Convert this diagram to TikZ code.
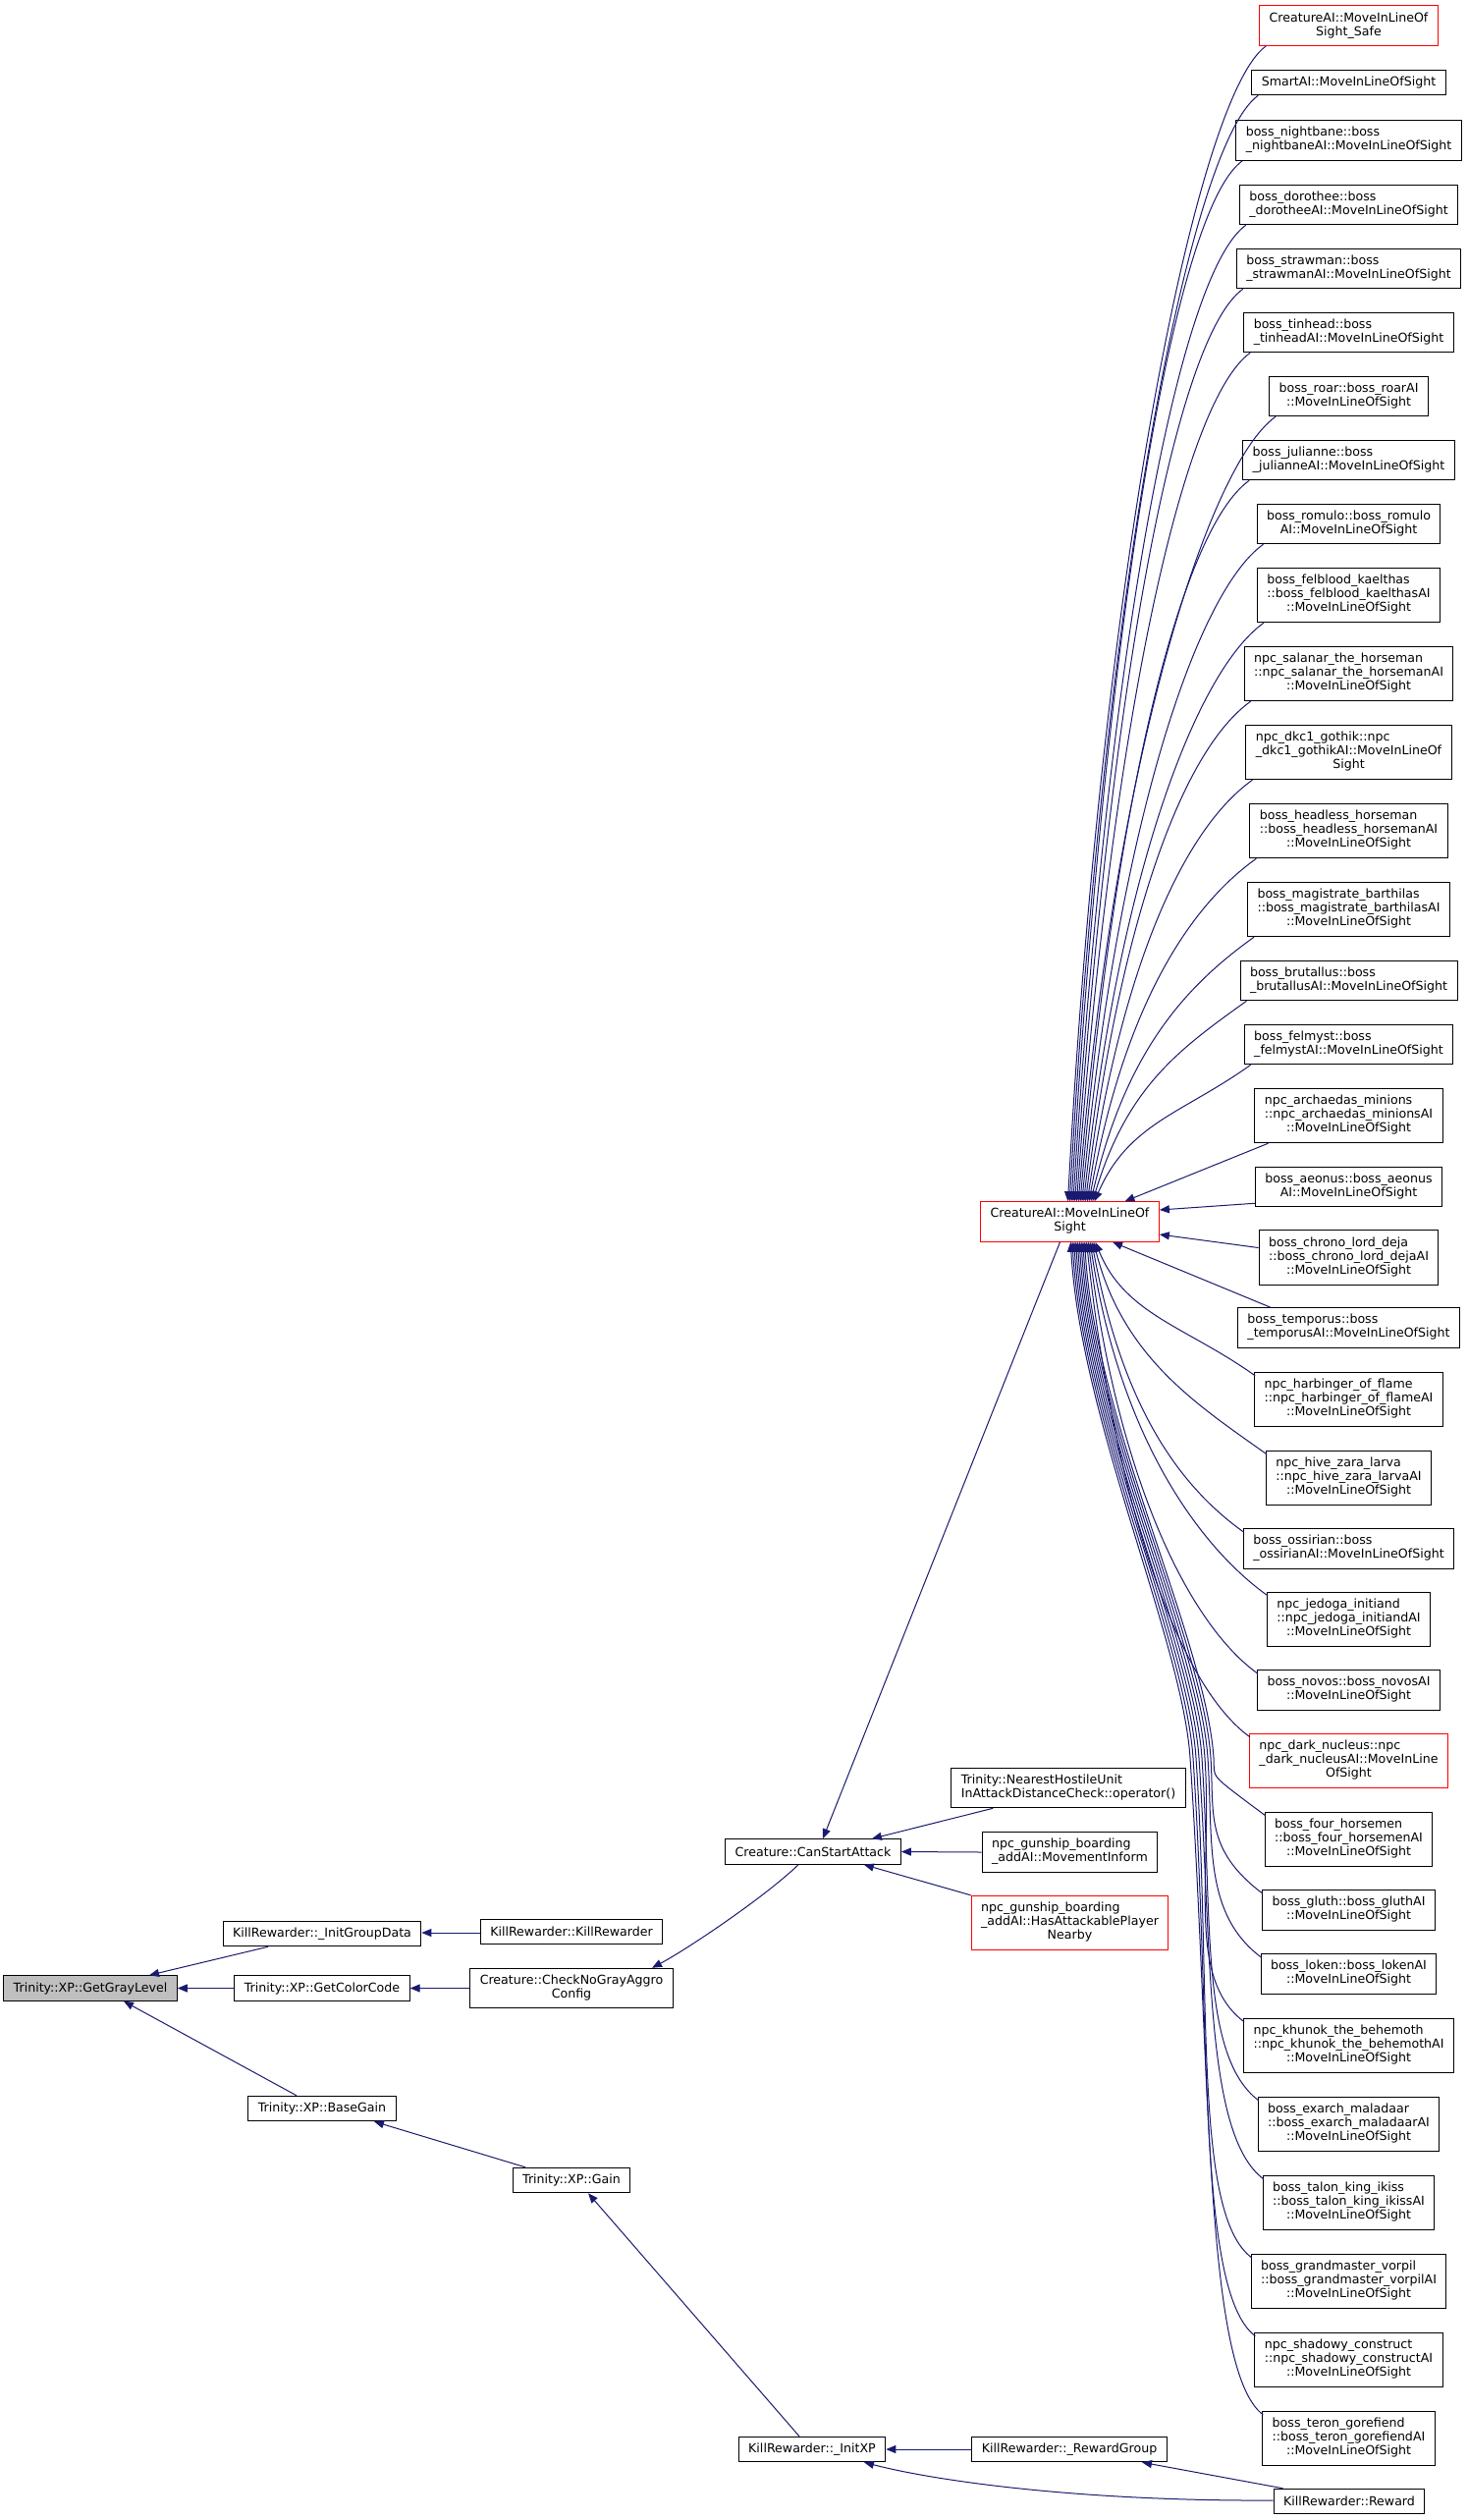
\documentclass[tikz,border=0pt]{standalone}
\usepackage{fontspec}
\newfontfamily\dvs{DejaVu Sans}
\usetikzlibrary{arrows.meta,calc}
\definecolor{mblue}{HTML}{191970}
\definecolor{ggray}{HTML}{BFBFBF}
\newcommand{\lab}[2]{\begin{tabular}{@{}l@{}}#1\\\multicolumn{1}{@{}c@{}}{#2}\end{tabular}}
\newcommand{\nfont}{\dvs\fontsize{12.6}{14}\selectfont}
\tikzset{
  box/.style={draw=black, line width=1pt, fill=white, inner xsep=10pt, inner ysep=0pt, font=\nfont},
  hA/.style={box, minimum height=25.5pt},
  hB/.style={box, minimum height=40.5pt},
  hC/.style={box, minimum height=55.5pt},
  redbox/.style={draw=red},
  graybox/.style={fill=ggray},
  edge/.style={draw=mblue, line width=1pt, -{Triangle[length=10pt,width=8pt]}}
}
\newcommand{\upedge}[3]{%
  \coordinate (A#1) at ($(#1.south west)+(7,0)$);
  \coordinate (S#1) at ($(cai.north)+(#2,0)$);
  \draw[edge] (A#1) .. controls ($(A#1)+(-70,50)$) and ($(S#1)+(35,-#3)$) .. (S#1);}
\newcommand{\downedge}[3]{%
  \coordinate (A#1) at ($(#1.north west)+(1,4)$);
  \coordinate (S#1) at ($(cai.south)+(#2,0)$);
  \draw[edge] (A#1) .. controls ($(A#1)+(-70,-50)$) and ($(S#1)+(30,#3)$) .. (S#1);}
% far edges: routed through a waypoint right of the middle boxes
\newcommand{\faredge}[4]{%
  \coordinate (A#1) at ($(#1.north west)+(1,4)$);
  \coordinate (S#1) at ($(cai.south)+(#2,0)$);
  \coordinate (W#1) at (#3,1790);
  \draw[edge] (A#1) .. controls ($(A#1)+(-60,-45)$) and ($(W#1)+(#4/15,#4)$) .. (W#1)
     .. controls ($(W#1)+(-8,-120)$) and ($(S#1)+(10,180)$) .. (S#1);}
\begin{document}
\begin{tikzpicture}[x=1pt,y=-1pt]
\useasboundingbox (0,0) rectangle (1495,2566);
% left part
\node[hA,graybox] (ggl) at (92,2024.5) {Trinity::XP::GetGrayLevel};
\node[hA] (igd) at (328,1969) {KillRewarder::\_InitGroupData};
\node[hA] (krk) at (582,1967) {KillRewarder::KillRewarder};
\node[hA] (gcc) at (328,2024.5) {Trinity::XP::GetColorCode};
\node[hB] (cng) at (582,2024.5) {\lab{Creature::CheckNoGrayAggro}{Config}};
\node[hA] (bg) at (328,2147) {Trinity::XP::BaseGain};
\node[hA] (gain) at (582,2220) {Trinity::XP::Gain};
\node[hA] (csa) at (828,1885.5) {Creature::CanStartAttack};
\node[hA] (ixp) at (827,2494) {KillRewarder::\_InitXP};
\node[hA] (rg) at (1089,2494) {KillRewarder::\_RewardGroup};
\node[hA] (rw) at (1374,2547) {KillRewarder::Reward};
\node[hB] (nh) at (1088,1820.5) {\lab{Trinity::NearestHostileUnit}{InAttackDistanceCheck::operator()}};
\node[hB] (mi) at (1089.5,1886) {\lab{npc\_gunship\_boarding}{\_addAI::MovementInform}};
\node[hC,redbox] (hap) at (1089.5,1958) {\lab{npc\_gunship\_boarding\\\_addAI::HasAttackablePlayer}{Nearby}};
\node[hB,redbox] (cai) at (1089.5,1244) {\lab{CreatureAI::MoveInLineOf}{Sight}};
% right column
\node[hB,redbox] (r1) at (1373.5,26.25) {\lab{CreatureAI::MoveInLineOf}{Sight\_Safe}};
\node[hA] (r2) at (1373.5,84) {SmartAI::MoveInLineOfSight};
\node[hB] (r3) at (1373.5,143) {\lab{boss\_nightbane::boss}{\_nightbaneAI::MoveInLineOfSight}};
\node[hB] (r4) at (1373.5,208.5) {\lab{boss\_dorothee::boss}{\_dorotheeAI::MoveInLineOfSight}};
\node[hB] (r5) at (1373.5,273.5) {\lab{boss\_strawman::boss}{\_strawmanAI::MoveInLineOfSight}};
\node[hB] (r6) at (1373.5,338.5) {\lab{boss\_tinhead::boss}{\_tinheadAI::MoveInLineOfSight}};
\node[hB] (r7) at (1373.5,403.5) {\lab{boss\_roar::boss\_roarAI}{::MoveInLineOfSight}};
\node[hB] (r8) at (1373.5,468.5) {\lab{boss\_julianne::boss}{\_julianneAI::MoveInLineOfSight}};
\node[hB] (r9) at (1373.5,533.5) {\lab{boss\_romulo::boss\_romulo}{AI::MoveInLineOfSight}};
\node[hC] (r10) at (1373.5,606) {\lab{boss\_felblood\_kaelthas\\::boss\_felblood\_kaelthasAI}{::MoveInLineOfSight}};
\node[hC] (r11) at (1373.5,686) {\lab{npc\_salanar\_the\_horseman\\::npc\_salanar\_the\_horsemanAI}{::MoveInLineOfSight}};
\node[hC] (r12) at (1373.5,766) {\lab{npc\_dkc1\_gothik::npc\\\_dkc1\_gothikAI::MoveInLineOf}{Sight}};
\node[hC] (r13) at (1373.5,846) {\lab{boss\_headless\_horseman\\::boss\_headless\_horsemanAI}{::MoveInLineOfSight}};
\node[hC] (r14) at (1373.5,926) {\lab{boss\_magistrate\_barthilas\\::boss\_magistrate\_barthilasAI}{::MoveInLineOfSight}};
\node[hB] (r15) at (1373.5,998.5) {\lab{boss\_brutallus::boss}{\_brutallusAI::MoveInLineOfSight}};
\node[hB] (r16) at (1373.5,1063.5) {\lab{boss\_felmyst::boss}{\_felmystAI::MoveInLineOfSight}};
\node[hC] (r17) at (1373.5,1136) {\lab{npc\_archaedas\_minions\\::npc\_archaedas\_minionsAI}{::MoveInLineOfSight}};
\node[hB] (r18) at (1373.5,1208.5) {\lab{boss\_aeonus::boss\_aeonus}{AI::MoveInLineOfSight}};
\node[hC] (r19) at (1373.5,1280.5) {\lab{boss\_chrono\_lord\_deja\\::boss\_chrono\_lord\_dejaAI}{::MoveInLineOfSight}};
\node[hB] (r20) at (1373.5,1352) {\lab{boss\_temporus::boss}{\_temporusAI::MoveInLineOfSight}};
\node[hC] (r21) at (1373.5,1425) {\lab{npc\_harbinger\_of\_flame\\::npc\_harbinger\_of\_flameAI}{::MoveInLineOfSight}};
\node[hC] (r22) at (1373.5,1505) {\lab{npc\_hive\_zara\_larva\\::npc\_hive\_zara\_larvaAI}{::MoveInLineOfSight}};
\node[hB] (r23) at (1373.5,1577) {\lab{boss\_ossirian::boss}{\_ossirianAI::MoveInLineOfSight}};
\node[hC] (r24) at (1373.5,1649) {\lab{npc\_jedoga\_initiand\\::npc\_jedoga\_initiandAI}{::MoveInLineOfSight}};
\node[hB] (r25) at (1373.5,1721) {\lab{boss\_novos::boss\_novosAI}{::MoveInLineOfSight}};
\node[hC,redbox] (r26) at (1373.5,1793) {\lab{npc\_dark\_nucleus::npc\\\_dark\_nucleusAI::MoveInLine}{OfSight}};
\node[hC] (r27) at (1373.5,1873) {\lab{boss\_four\_horsemen\\::boss\_four\_horsemenAI}{::MoveInLineOfSight}};
\node[hB] (r28) at (1373.5,1945) {\lab{boss\_gluth::boss\_gluthAI}{::MoveInLineOfSight}};
\node[hB] (r29) at (1373.5,2010) {\lab{boss\_loken::boss\_lokenAI}{::MoveInLineOfSight}};
\node[hC] (r30) at (1373.5,2083) {\lab{npc\_khunok\_the\_behemoth\\::npc\_khunok\_the\_behemothAI}{::MoveInLineOfSight}};
\node[hC] (r31) at (1373.5,2163) {\lab{boss\_exarch\_maladaar\\::boss\_exarch\_maladaarAI}{::MoveInLineOfSight}};
\node[hC] (r32) at (1373.5,2243) {\lab{boss\_talon\_king\_ikiss\\::boss\_talon\_king\_ikissAI}{::MoveInLineOfSight}};
\node[hC] (r33) at (1373.5,2323) {\lab{boss\_grandmaster\_vorpil\\::boss\_grandmaster\_vorpilAI}{::MoveInLineOfSight}};
\node[hC] (r34) at (1373.5,2403) {\lab{npc\_shadowy\_construct\\::npc\_shadowy\_constructAI}{::MoveInLineOfSight}};
\node[hC] (r35) at (1373.5,2483) {\lab{boss\_teron\_gorefiend\\::boss\_teron\_gorefiendAI}{::MoveInLineOfSight}};
% left edges
\draw[edge] ($(igd.south)+(-55,0)$) -- ($(ggl.north)+(60,0)$);
\draw[edge] (gcc.west) -- (ggl.east);
\draw[edge] ($(bg.north)+(-26,0)$) -- ($(ggl.south)+(34,0)$);
\draw[edge] ($(krk.west)+(0,1)$) -- ($(igd.east)+(0,-1)$);
\draw[edge] (cng.west) -- (gcc.east);
\draw[edge] ($(gain.north)+(-47,0)$) -- ($(bg.south)+(53,0)$);
\draw[edge] ($(ixp.north)+(-13,0)$) -- ($(gain.south)+(17,0)$);
\draw[edge] (rg.west) -- (ixp.east);
\draw[edge] ($(rw.west)+(0,-1)$) .. controls ($(rw.west)+(-190,0)$) and ($(ixp.south)+(130,20)$) .. ($(ixp.south)+(53,0)$);
\draw[edge] ($(rw.north west)+(10,0)$) -- ($(rg.south)+(74,0)$);
\draw[edge] ($(cai.south)+(-10,0)$) -- ($(csa.north)+(10,0)$);
\draw[edge] ($(csa.south)+(-15,0)$) .. controls ($(csa.south)+(-48,32)$) and ($(cng.north)+(118,-19)$) .. ($(cng.north)+(82,0)$);
\draw[edge] ($(nh.south west)+(43,0)$) -- ($(csa.north east)+(-30,0)$);
\draw[edge] (mi.west) -- (csa.east);
\draw[edge] (hap.north west) -- ($(csa.south east)+(-38,0)$);
% edges into CreatureAI::MoveInLineOfSight
\upedge{r1}{-2}{649}
\upedge{r2}{-0.2}{622}
\upedge{r3}{1.6}{586}
\upedge{r4}{3.4}{551}
\upedge{r5}{5.2}{515}
\upedge{r6}{7}{479}
\upedge{r7}{8.8}{443}
\upedge{r8}{10.6}{408}
\upedge{r9}{12.4}{372}
\upedge{r10}{14.2}{328}
\upedge{r11}{16}{284}
\upedge{r12}{17.8}{240}
\upedge{r13}{19.6}{196}
\upedge{r14}{21.4}{152}
\upedge{r15}{23.2}{116}
\upedge{r16}{25}{80}
\draw[edge] ($(r17.south west)+(14,0)$) -- ($(cai.north)+(56,0)$);
\draw[edge] ($(r18.south west)+(0,-4)$) -- ($(cai.east)+(0,-12)$);
\draw[edge] ($(r19.west)+(0,-10)$) -- ($(cai.east)+(0,13)$);
\draw[edge] ($(r20.north west)+(34,0)$) -- ($(cai.south)+(43.5,0)$);
\downedge{r21}{26}{74}
\downedge{r22}{24.2}{118}
\downedge{r23}{22.4}{162}
\downedge{r24}{20.6}{198}
\downedge{r25}{18.8}{242}
\downedge{r26}{17}{277}
\faredge{r27}{15.2}{1236}{22}
\faredge{r28}{13.4}{1233}{55}
\faredge{r29}{11.6}{1230}{85}
\faredge{r30}{9.8}{1227}{120}
\faredge{r31}{8}{1224}{160}
\faredge{r32}{6.2}{1221}{200}
\faredge{r33}{4.4}{1218}{240}
\faredge{r34}{2.6}{1215}{280}
\faredge{r35}{0.8}{1212}{320}
\end{tikzpicture}
\end{document}
